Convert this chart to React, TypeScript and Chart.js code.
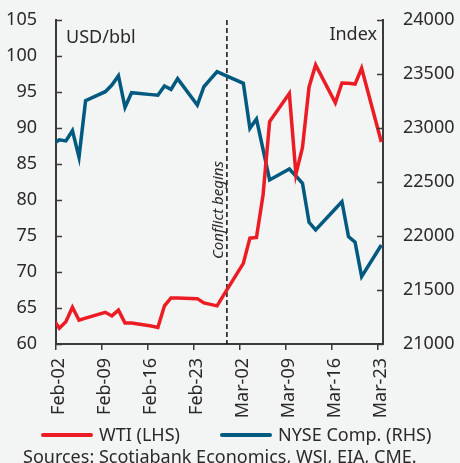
import { useEffect, useRef } from 'react';
import { Chart, registerables } from 'chart.js';

Chart.register(...registerables);

// Days counted from the "Feb-02" tick (2022)
const days = [-0.5, 0.5, 1.5, 2.5, 3.5, 4.5, 7.5, 8.5, 9.5, 10.5, 11.5, 14.5, 15.5, 16.5, 17.5, 18.5, 21.5, 22.5, 23.5, 24.5, 25.5, 28.5, 29.5, 30.5, 31.5, 32.5, 35.5, 36.5, 37.5, 38.5, 39.5, 42.5, 43.5, 44.5, 45.5, 46.5, 49.5];
const wti = [63.6, 62.2, 63.1, 65.1, 63.3, 63.6, 64.4, 63.9, 64.7, 62.9, 62.9, 62.5, 62.3, 65.3, 66.4, 66.4, 66.3, 65.7, 65.5, 65.3, 66.8, 71.2, 74.7, 74.8, 80.7, 90.9, 94.8, 83.6, 87.3, 95.7, 98.75, 93.5, 96.25, 96.2, 96.1, 98.3, 88.05];
const nyse = [22850, 22890, 22880, 22975, 22729, 23253, 23336, 23398, 23484, 23192, 23327, 23309, 23303, 23389, 23358, 23457, 23213, 23382, 23452, 23521, 23494, 23414, 22997, 23083, 22801, 22519, 22620, 22556, 22488, 22127, 22056, 22252, 22318, 21994, 21943, 21624, 21917];

const tickDays = [0, 7, 14, 21, 28, 35, 42, 49];
const tickLabels = ['Feb-02', 'Feb-09', 'Feb-16', 'Feb-23', 'Mar-02', 'Mar-09', 'Mar-16', 'Mar-23'];
const conflictDay = 26;
const conflictLabel = 'Conflict begins';
const leftUnit = 'USD/bbl';
const rightUnit = 'Index';
const seriesNames = ['WTI (LHS)', 'NYSE Comp. (RHS)'];
const sourceText = 'Sources: Scotiabank Economics, WSJ, EIA, CME.';

const FONT = '"Noto Sans", "Open Sans", sans-serif';
const RED = '#ec1c24';
const BLUE = '#005a80';
const AXIS = '#3a3a3a';
const TEXT = '#2a2a2a';
const BG = '#f3f4f4';

export default function App() {
  const ref = useRef<HTMLCanvasElement>(null);

  useEffect(() => {
    if (!ref.current) return;

    const annot = {
      id: 'annot',
      beforeDatasetsDraw(chart: any) {
        const { ctx, chartArea } = chart;
        const x = chart.scales.x.getPixelForValue(conflictDay);
        ctx.save();
        ctx.strokeStyle = '#111';
        ctx.lineWidth = 1.5;
        ctx.setLineDash([5, 3]);
        ctx.beginPath();
        ctx.moveTo(x, chartArea.top);
        ctx.lineTo(x, chartArea.bottom);
        ctx.stroke();
        ctx.restore();

        ctx.save();
        ctx.translate(x - 4, (chartArea.top + chartArea.bottom) / 2 + 28);
        ctx.rotate(-Math.PI / 2);
        ctx.font = `italic 15px ${FONT}`;
        ctx.fillStyle = TEXT;
        ctx.textAlign = 'center';
        ctx.textBaseline = 'alphabetic';
        ctx.fillText(conflictLabel, 0, 0);
        ctx.restore();
      },
      afterDraw(chart: any) {
        const { ctx, chartArea } = chart;
        ctx.save();
        // inward tick marks on both y axes
        ctx.strokeStyle = AXIS;
        ctx.lineWidth = 1.5;
        const yl = chart.scales.y;
        yl.ticks.forEach((t: any) => {
          const py = Math.round(yl.getPixelForValue(t.value)) + 0.5;
          ctx.beginPath();
          ctx.moveTo(chartArea.left, py);
          ctx.lineTo(chartArea.left + 6, py);
          ctx.stroke();
        });
        const yr = chart.scales.y1;
        yr.ticks.forEach((t: any) => {
          const py = Math.round(yr.getPixelForValue(t.value)) + 0.5;
          ctx.beginPath();
          ctx.moveTo(chartArea.right, py);
          ctx.lineTo(chartArea.right - 6, py);
          ctx.stroke();
        });

        // unit labels
        ctx.fillStyle = TEXT;
        ctx.font = `18px ${FONT}`;
        ctx.textBaseline = 'alphabetic';
        ctx.textAlign = 'left';
        ctx.fillText(leftUnit, chartArea.left + 10, 42.5);
        ctx.textAlign = 'right';
        ctx.fillText(rightUnit, chartArea.right - 6, 40);

        // legend
        const ds = chart.data.datasets;
        const items = [
          { x: 41, color: ds[0].borderColor, text: ds[0].label },
          { x: 220, color: ds[1].borderColor, text: ds[1].label },
        ];
        items.forEach((it) => {
          ctx.strokeStyle = it.color;
          ctx.lineWidth = 4;
          ctx.lineCap = 'round';
          ctx.beginPath();
          ctx.moveTo(it.x + 2, 435);
          ctx.lineTo(it.x + 50, 435);
          ctx.stroke();
          ctx.textAlign = 'left';
          ctx.fillStyle = TEXT;
          ctx.fillText(it.text, it.x + 58, 441);
        });

        // sources
        ctx.fillText(sourceText, 23, 462.5);
        ctx.restore();
      },
    };

    const fixY = (w: number) => (s: any) => {
      s.width = w;
      s.paddingTop = 0;
      s.paddingBottom = 0;
    };

    const chart = new Chart(ref.current, {
      type: 'line',
      data: {
        datasets: [
          {
            label: seriesNames[0],
            data: days.map((d, i) => ({ x: d, y: wti[i] })),
            borderColor: RED,
            backgroundColor: RED,
            borderWidth: 3.5,
            pointRadius: 0,
            tension: 0,
            yAxisID: 'y',
            clip: 0,
          },
          {
            label: seriesNames[1],
            data: days.map((d, i) => ({ x: d, y: nyse[i] })),
            borderColor: BLUE,
            backgroundColor: BLUE,
            borderWidth: 3.5,
            pointRadius: 0,
            tension: 0,
            yAxisID: 'y1',
            clip: 0,
          },
        ],
      },
      options: {
        animation: false,
        responsive: false,
        devicePixelRatio: 1,
        layout: { padding: { top: 20, left: 0, right: 0, bottom: 0 } },
        plugins: {
          legend: { display: false },
          tooltip: { enabled: false },
        },
        scales: {
          x: {
            type: 'linear',
            min: 0,
            max: 49.75,
            afterBuildTicks: (s: any) => {
              s.ticks = tickDays.map((v) => ({ value: v }));
            },
            afterFit: (s: any) => {
              s.height = 119;
              s.paddingLeft = 0;
              s.paddingRight = 0;
            },
            ticks: {
              autoSkip: false,
              maxRotation: 90,
              minRotation: 90,
              padding: 8,
              labelOffset: 3,
              color: TEXT,
              font: { family: FONT, size: 18 },
              callback: (_v: any, i: number) => tickLabels[i],
            },
            grid: {
              drawOnChartArea: false,
              drawTicks: true,
              tickLength: 6,
              color: AXIS,
              lineWidth: 1.5,
            },
            border: { display: true, color: AXIS, width: 2 },
          },
          y: {
            position: 'left',
            min: 60,
            max: 105,
            afterFit: fixY(56),
            ticks: {
              stepSize: 5,
              padding: 19,
              color: TEXT,
              font: { family: FONT, size: 18 },
            },
            grid: { drawOnChartArea: false, drawTicks: false },
            border: { display: true, color: AXIS, width: 2 },
          },
          y1: {
            position: 'right',
            min: 21000,
            max: 24000,
            afterFit: fixY(77),
            ticks: {
              stepSize: 500,
              padding: 20,
              color: TEXT,
              font: { family: FONT, size: 18 },
              callback: (v: any) => String(v),
            },
            grid: { drawOnChartArea: false, drawTicks: false },
            border: { display: true, color: AXIS, width: 2 },
          },
        },
      },
      plugins: [annot],
    });

    return () => chart.destroy();
  }, []);

  return (
    <div
      style={{
        position: 'fixed',
        left: 0,
        top: 0,
        width: 460,
        height: 463,
        background: BG,
        overflow: 'hidden',
      }}
    >
      <canvas ref={ref} width={460} height={463} style={{ display: 'block' }} />
    </div>
  );
}
